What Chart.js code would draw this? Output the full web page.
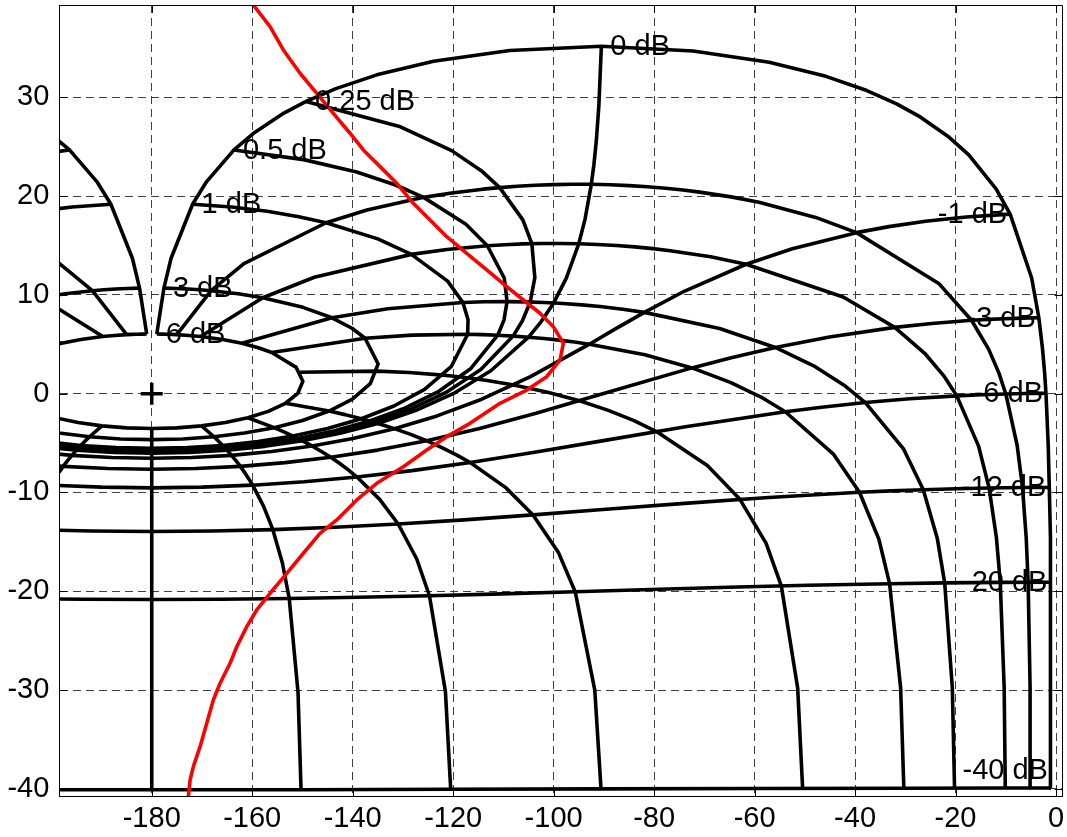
<!DOCTYPE html>
<html>
<head>
<meta charset="utf-8">
<title>Nichols chart</title>
<script src="https://cdn.jsdelivr.net/npm/chart.js@4.4.1/dist/chart.umd.min.js"></script>
<style>
  html, body { margin: 0; padding: 0; background: #ffffff; }
  #wrap { width: 1067px; height: 837px; }
</style>
</head>
<body>
<div id="wrap"><canvas id="nichols" width="1067" height="837"></canvas></div>
<script>
// ---------------------------------------------------------------------------
// Axis ranges and ticks (open-loop phase in degrees, open-loop gain in dB)
// ---------------------------------------------------------------------------
const phaseRange = [-198.4, 1.33];
const gainRange = [-40.72, 39.34];
const phaseTicks = [-180, -160, -140, -120, -100, -80, -60, -40, -20, 0];
const gainTicks = [-40, -30, -20, -10, 0, 10, 20, 30];

// Critical point marker
const criticalPoint = [-180, 0];

// Open-loop frequency response
const responsePhase = [
  -159.77, -156.45, -153.80, -150.48, -147.15, -143.85, -140.53, -137.88, -134.55, -131.23,
  -127.93, -124.60, -121.28, -117.30, -113.32, -109.34, -106.03, -102.71, -100.06, -98.07,
  -98.73, -101.38, -105.36, -108.68, -110.67, -116.64, -121.28, -125.26, -129.92, -135.21,
  -139.19, -143.17, -146.50, -149.82, -153.12, -156.45, -159.10, -161.09, -163.08, -164.41,
  -166.40, -167.74, -169.05, -170.38, -171.72, -172.37, -172.71
];
const responseGain = [
  39.34, 37.15, 34.79, 32.43, 30.40, 28.38, 26.36, 24.67, 22.98, 21.30,
  19.27, 17.58, 15.89, 14.21, 12.52, 10.83, 9.48, 8.14, 6.78, 5.10,
  3.41, 1.72, 0.37, -0.47, -0.97, -3.00, -4.35, -5.70, -7.39, -9.07,
  -10.76, -12.78, -14.13, -16.15, -18.18, -20.20, -21.89, -23.58, -25.61, -27.29,
  -29.31, -31.00, -33.36, -35.73, -37.75, -39.10, -40.79
];

// ---------------------------------------------------------------------------
// Closed-loop gain contours: [open-loop phase, open-loop gain dB]
// ---------------------------------------------------------------------------
const gain6dB = [
  [-179.00,6.04],[-178.00,6.03],[-176.99,6.02],[-176.00,6.00],[-175.01,5.98],[-172.59,5.89],[-170.25,5.78],
  [-165.89,5.48],[-162.05,5.10],[-158.79,4.65],[-156.11,4.17],[-151.24,2.66],[-149.92,1.25],[-150.91,0.04],
  [-153.39,-0.97],[-156.81,-1.79],[-160.86,-2.44],[-165.33,-2.92],[-170.09,-3.26],[-175.00,-3.46],[-180,-3.53],
  [-185.00,-3.46],[-189.91,-3.26],[-194.67,-2.92],[-199.14,-2.44],[-203.19,-1.79],[-206.61,-0.97],[-209.09,0.04],
  [-210.08,1.25],[-208.76,2.66],[-203.89,4.17],[-201.21,4.65],[-197.95,5.10],[-194.11,5.48],[-189.75,5.78],
  [-187.41,5.89],[-184.99,5.98],[-184.00,6.00],[-183.01,6.02],[-182.00,6.03],[-181.00,6.04]
];
const gain3dB = [
  [-177.58,10.68],[-175.17,10.65],[-172.79,10.59],[-170.46,10.52],[-168.18,10.42],[-162.78,10.11],[-157.90,9.71],
  [-149.91,8.74],[-144.12,7.68],[-140.14,6.62],[-137.54,5.61],[-134.93,3.01],[-136.50,1.01],[-140.06,-0.55],
  [-144.70,-1.76],[-149.98,-2.71],[-155.64,-3.44],[-161.55,-3.98],[-167.62,-4.36],[-173.79,-4.58],[-180,-4.65],
  [-186.21,-4.58],[-192.38,-4.36],[-198.45,-3.98],[-204.36,-3.44],[-210.02,-2.71],[-215.30,-1.76],[-219.94,-0.55],
  [-223.50,1.01],[-225.07,3.01],[-222.46,5.61],[-219.86,6.62],[-215.88,7.68],[-210.09,8.74],[-202.10,9.71],
  [-197.22,10.11],[-191.82,10.42],[-189.54,10.52],[-187.21,10.59],[-184.83,10.65],[-182.42,10.68]
];
const gain1dB = [
  [-171.87,19.17],[-164.11,18.89],[-157.02,18.46],[-150.73,17.91],[-145.29,17.30],[-135.01,15.67],[-128.32,14.10],
  [-121.10,11.39],[-118.06,9.23],[-117.04,7.48],[-117.11,6.01],[-120.40,2.73],[-125.69,0.44],[-131.79,-1.25],
  [-138.29,-2.54],[-145.02,-3.53],[-151.90,-4.29],[-158.86,-4.85],[-165.88,-5.24],[-172.93,-5.46],[-180,-5.54],
  [-187.07,-5.46],[-194.12,-5.24],[-201.14,-4.85],[-208.10,-4.29],[-214.98,-3.53],[-221.71,-2.54],[-228.21,-1.25],
  [-234.31,0.44],[-239.60,2.73],[-242.89,6.01],[-242.96,7.48],[-241.94,9.23],[-238.90,11.39],[-231.68,14.10],
  [-224.99,15.67],[-214.71,17.30],[-209.27,17.91],[-202.98,18.46],[-195.89,18.89],[-188.13,19.17]
];
const gain05dB = [
  [-163.63,24.67],[-149.76,23.69],[-139.20,22.43],[-131.48,21.12],[-125.88,19.87],[-117.45,17.15],[-113.20,14.97],
  [-109.83,11.71],[-109.27,9.32],[-109.89,7.45],[-111.13,5.92],[-116.47,2.55],[-122.85,0.24],[-129.64,-1.47],
  [-136.64,-2.77],[-143.76,-3.77],[-150.95,-4.53],[-158.18,-5.09],[-165.44,-5.47],[-172.72,-5.70],[-180,-5.77],
  [-187.28,-5.70],[-194.56,-5.47],[-201.82,-5.09],[-209.05,-4.53],[-216.24,-3.77],[-223.36,-2.77],[-230.36,-1.47],
  [-237.15,0.24],[-243.53,2.55],[-248.87,5.92],[-250.11,7.45],[-250.73,9.32],[-250.17,11.71],[-246.80,14.97],
  [-242.55,17.15],[-234.12,19.87],[-228.52,21.12],[-220.80,22.43],[-210.24,23.69],[-196.37,24.67]
];
const gain025dB = [
  [-149.27,29.58],[-130.50,27.01],[-120.29,24.60],[-114.40,22.57],[-110.74,20.86],[-106.13,17.59],[-104.34,15.18],
  [-103.74,11.74],[-104.67,9.28],[-106.21,7.38],[-108.07,5.83],[-114.49,2.44],[-121.43,0.12],[-128.57,-1.59],
  [-135.82,-2.89],[-143.13,-3.89],[-150.47,-4.65],[-157.84,-5.21],[-165.22,-5.60],[-172.61,-5.82],[-180,-5.90],
  [-187.39,-5.82],[-194.78,-5.60],[-202.16,-5.21],[-209.53,-4.65]
];
const gain0dB = [
  [-90.5,35.16],[-91,29.14],[-91.5,25.62],[-92,23.12],[-92.5,21.19],[-93.75,17.67],[-95,15.17],
  [-97.5,11.67],[-100,9.19],[-102.5,7.27],[-105,5.72],[-112.5,2.32],[-120,0],[-127.5,-1.71],
  [-135,-3.01],[-142.5,-4.01],[-150,-4.77],[-157.5,-5.33],[-165,-5.72],[-172.5,-5.95],[-180,-6.02],
  [-187.5,-5.95],[-195,-5.72],[-202.5,-5.33]
];
const gainM1dB = [
  [-9.13,18.17],[-17.89,17.89],[-25.98,17.46],[-33.27,16.91],[-39.71,16.30],[-52.49,14.67],[-61.69,13.10],
  [-73.91,10.39],[-81.94,8.23],[-87.96,6.48],[-92.89,5.01],[-104.60,1.73],[-114.31,-0.56],[-123.21,-2.25],
  [-131.71,-3.54],[-139.97,-4.53],[-148.10,-5.29],[-156.13,-5.85],[-164.12,-6.24],[-172.07,-6.46],[-180,-6.54],
  [-187.93,-6.46],[-195.88,-6.24],[-203.87,-5.85]
];
const gainM3dB = [
  [-3.42,7.68],[-6.83,7.65],[-10.21,7.59],[-13.54,7.52],[-16.82,7.43],[-24.72,7.11],[-32.10,6.71],
  [-45.09,5.74],[-55.88,4.68],[-64.86,3.62],[-72.46,2.61],[-90.07,0.01],[-103.50,-1.99],[-114.94,-3.55],
  [-125.30,-4.76],[-135.02,-5.71],[-144.36,-6.44],[-153.45,-6.98],[-162.38,-7.36],[-171.21,-7.58],[-180,-7.65],
  [-188.79,-7.58],[-197.62,-7.36],[-206.55,-6.98]
];
const gainM6dB = [
  [-2.00,0.04],[-4.01,0.03],[-6.01,0.02],[-8.00,0.00],[-9.99,-0.03],[-14.91,-0.11],[-19.75,-0.22],
  [-29.11,-0.52],[-37.95,-0.90],[-46.21,-1.35],[-53.89,-1.83],[-73.76,-3.34],[-90.08,-4.75],[-104.09,-5.96],
  [-116.61,-6.97],[-128.19,-7.79],[-139.14,-8.44],[-149.67,-8.92],[-159.91,-9.26],[-170.00,-9.46],[-180,-9.53],
  [-190.00,-9.46],[-200.09,-9.26]
];
const gainM12dB = [
  [-1.34,-9.49],[-6.67,-9.50],[-13.32,-9.55],[-19.91,-9.62],[-26.42,-9.72],[-32.83,-9.84],[-39.12,-9.98],
  [-57.19,-10.50],[-73.97,-11.10],[-89.55,-11.70],[-104.10,-12.27],[-117.83,-12.77],[-130.94,-13.19],
  [-143.58,-13.52],[-155.89,-13.76],[-168.00,-13.90],[-180,-13.95],[-192.00,-13.90],[-204.11,-13.76]
];
const gainM20dB = [
  [-1.11,-19.09],[-11.10,-19.10],[-22.16,-19.15],[-33.13,-19.23],[-49.35,-19.39],[-65.21,-19.59],[-80.66,-19.82],
  [-95.71,-20.04],[-110.38,-20.26],[-124.72,-20.45],[-138.78,-20.61],[-152.63,-20.73],[-166.35,-20.80],[-180,-20.83],
  [-193.65,-20.80],[-207.37,-20.73]
];
const gainM40dB = [
  [-1.01,-39.91],[-10.10,-39.91],[-30.29,-39.93],[-60.50,-39.96],[-90.57,-40.00],[-120.49,-40.04],
  [-150.28,-40.08],[-180,-40.09],[-209.72,-40.08]
];

// ---------------------------------------------------------------------------
// Closed-loop phase contours: [open-loop phase, open-loop gain dB]
// ---------------------------------------------------------------------------
const phaseM1 = [
  [-1.01,-39.91],[-1.03,-29.72],[-1.11,-19.09],[-1.19,-14.50],[-1.34,-9.49],[-1.55,-5.19],[-2.00,0.04],
  [-2.28,2.17],[-2.71,4.65],[-3.42,7.68],[-4.85,11.71],[-9.13,18.17],[-11.93,20.72],[-17.37,24.17],
  [-21.26,25.95],[-27.31,28.10],[-31.73,29.33],[-37.66,30.68],[-45.80,32.12],[-57.09,33.54],[-72.25,34.69],
  [-90.5,35.16],[-108.75,34.74],[-123.91,33.64],[-135.20,32.27],[-143.34,30.88],[-149.27,29.58],[-153.69,28.40],
  [-159.74,26.35],[-163.63,24.67],[-169.07,21.47],[-171.87,19.17],[-176.15,13.71],[-177.58,10.68],[-179.00,6.04]
];
const phaseM5 = [
  [-5.05,-39.91],[-5.16,-29.72],[-5.55,-19.09],[-5.94,-14.51],[-6.67,-9.50],[-7.74,-5.22],[-9.99,-0.03],
  [-11.36,2.08],[-13.42,4.51],[-16.82,7.43],[-23.35,11.16],[-39.71,16.30],[-47.84,17.84],[-59.12,19.37],
  [-64.70,19.92],[-70.92,20.40],[-74.26,20.61],[-77.73,20.79],[-81.31,20.94],[-84.99,21.06],[-88.73,21.14],
  [-92.5,21.19],[-96.27,21.19],[-100.01,21.16],[-103.69,21.09],[-107.27,20.99],[-110.74,20.86],[-114.08,20.70],
  [-120.30,20.32],[-125.88,19.87],[-137.16,18.59],[-145.29,17.30],[-161.65,13.16],[-168.18,10.42],[-175.01,5.98]
];
const phaseM10 = [
  [-10.10,-39.91],[-10.32,-29.73],[-11.10,-19.10],[-11.87,-14.53],[-13.32,-9.55],[-15.41,-5.31],[-19.75,-0.22],
  [-22.34,1.81],[-26.14,4.09],[-32.10,6.71],[-42.36,9.78],[-61.69,13.10],[-68.75,13.85],[-76.80,14.47],
  [-80.26,14.68],[-83.84,14.86],[-87.50,15.00],[-91.24,15.10],[-95,15.17],[-98.76,15.20],[-102.50,15.20],
  [-106.16,15.16],[-109.74,15.08],[-113.20,14.97],[-121.25,14.60],[-128.32,14.10],[-147.64,11.78],
  [-157.90,9.71],[-170.25,5.78]
];
const phaseM20 = [
  [-20.20,-39.92],[-20.64,-29.74],[-22.16,-19.15],[-23.64,-14.62],[-26.42,-9.72],[-30.32,-5.62],[-37.95,-0.90],
  [-42.19,0.86],[-47.93,2.73],[-55.88,4.68],[-66.97,6.60],[-81.94,8.23],[-86.25,8.55],[-90.73,8.82],
  [-94.41,8.99],[-98.13,9.13],[-101.87,9.23],[-105.59,9.29],[-109.27,9.32],[-113.75,9.30],[-118.06,9.23],
  [-133.03,8.60],[-144.12,7.68],[-162.05,5.10]
];
const phaseM30 = [
  [-30.29,-39.93],[-30.93,-29.76],[-33.13,-19.23],[-35.25,-14.75],[-39.12,-9.98],[-44.36,-6.09],[-53.89,-1.83],
  [-58.73,-0.34],[-64.82,1.15],[-72.46,2.61],[-81.84,3.93],[-92.89,5.01],[-95.85,5.23],[-98.87,5.42],
  [-101.93,5.58],[-105,5.72],[-108.07,5.83],[-111.13,5.92],[-114.15,5.98],[-117.11,6.01],[-128.16,5.93],
  [-137.54,5.61],[-156.11,4.17]
];
const phaseM50 = [
  [-50.44,-39.94],[-51.42,-29.82],[-54.68,-19.45],[-57.70,-15.15],[-62.92,-10.69],[-69.40,-7.26],[-79.53,-3.83],
  [-84.00,-2.73],[-89.11,-1.69],[-94.86,-0.72],[-101.19,0.15],[-107.97,0.88],[-109.71,1.04],[-111.47,1.19],
  [-113.23,1.33],[-115,1.46],[-116.77,1.58],[-118.53,1.69],[-120.29,1.79],[-122.03,1.88],[-128.81,2.15],
  [-135.14,2.28],[-150.47,2.17]
];
const phaseM90 = [
  [-90.57,-40.00],[-91.81,-30.00],[-95.71,-20.04],[-99.01,-16.11],[-104.10,-12.27],[-109.53,-9.51],[-116.61,-6.97],
  [-119.35,-6.19],[-122.25,-5.46],[-125.30,-4.76],[-128.46,-4.12],[-131.71,-3.54],[-133.68,-3.22],[-135,-3.01],
  [-136.32,-2.82],[-138.29,-2.54],[-141.54,-2.12],[-144.70,-1.76],[-153.39,-0.97]
];
const phaseM120 = [
  [-120.49,-40.04],[-121.54,-30.14],[-124.72,-20.45],[-127.25,-16.73],[-130.94,-13.19],[-134.63,-10.70],
  [-139.14,-8.44],[-140.81,-7.74],[-142.56,-7.07],[-144.36,-6.44],[-146.21,-5.85],[-148.10,-5.29],[-150,-4.77],
  [-151.90,-4.29],[-153.79,-3.85],[-155.64,-3.44],[-160.86,-2.44]
];
const phaseM150 = [
  [-150.28,-40.08],[-150.88,-30.24],[-152.63,-20.73],[-153.99,-17.14],[-155.89,-13.76],[-157.73,-11.41],
  [-159.91,-9.26],[-160.71,-8.60],[-161.53,-7.96],[-162.38,-7.36],[-163.24,-6.78],[-164.12,-6.24],[-165,-5.72],
  [-165.88,-5.24],[-166.76,-4.78],[-167.62,-4.36],[-170.09,-3.26]
];
const phaseM180 = [[-180,-40.09],[-180,-3.53]];
const phaseM210 = [
  [-199.29,-8.60],[-198.47,-7.96],[-197.62,-7.36],[-196.76,-6.78],[-195.88,-6.24],[-195,-5.72],
  [-194.12,-5.24],[-193.24,-4.78],[-192.38,-4.36],[-189.91,-3.26]
];
const phaseM340 = [[-215.88,7.68],[-197.95,5.10]];
const phaseM350 = [[-202.10,9.71],[-189.75,5.78]];
const phaseM355 = [[-214.71,17.30],[-198.35,13.16],[-191.82,10.42],[-184.99,5.98]];
const phaseM359 = [
  [-200.26,26.35],[-196.37,24.67],[-190.93,21.47],[-188.13,19.17],[-183.85,13.71],[-182.42,10.68],[-181.00,6.04]
];

// Gain contour labels, anchored at the first vertex of each contour
const gainLevels = [6, 3, 1, 0.5, 0.25, 0, -1, -3, -6, -12, -20, -40];
const gainLabelText = ['6 dB', '3 dB', '1 dB', '0.5 dB', '0.25 dB', '0 dB',
                       '-1 dB', '-3 dB', '-6 dB', '-12 dB', '-20 dB', '-40 dB'];
const gainContours = [gain6dB, gain3dB, gain1dB, gain05dB, gain025dB, gain0dB,
                      gainM1dB, gainM3dB, gainM6dB, gainM12dB, gainM20dB, gainM40dB];
const phaseContours = [phaseM1, phaseM5, phaseM10, phaseM20, phaseM30, phaseM50, phaseM90,
                       phaseM120, phaseM150, phaseM180, phaseM210, phaseM340, phaseM350,
                       phaseM355, phaseM359];

// ---------------------------------------------------------------------------
// Drawing
// ---------------------------------------------------------------------------
const FONT = '"Liberation Sans", Arial, Helvetica, sans-serif';
const toXY = line => line.map(([x, y]) => ({ x, y }));

const contourStyle = {
  showLine: true, pointRadius: 0, pointHoverRadius: 0, tension: 0, fill: false,
  borderColor: '#000000', borderWidth: 3.6, borderJoinStyle: 'round', clip: 0, order: 2
};

const datasets = [
  {
    data: responsePhase.map((p, i) => ({ x: p, y: responseGain[i] })),
    showLine: true, pointRadius: 0, pointHoverRadius: 0, tension: 0, fill: false,
    borderColor: '#ff0000', borderWidth: 3.6, borderJoinStyle: 'round', clip: 0, order: 0
  },
  {
    data: [{ x: criticalPoint[0], y: criticalPoint[1] }],
    showLine: false, pointStyle: 'cross', pointRadius: 11, pointHoverRadius: 11,
    borderColor: '#000000', pointBorderWidth: 3.5, borderWidth: 3.5, clip: 0, order: 1
  },
  ...gainContours.map(c => Object.assign({ data: toXY(c) }, contourStyle)),
  ...phaseContours.map(c => Object.assign({ data: toXY(c) }, contourStyle))
];

// Box outline and inward tick marks on all four sides
const framePlugin = {
  id: 'frame',
  afterDatasetsDraw(chart) {
    const { ctx, chartArea: a, scales: { x, y } } = chart;
    const tick = 8;
    ctx.save();
    ctx.strokeStyle = '#000000';
    ctx.lineWidth = 1;
    ctx.beginPath();
    phaseTicks.forEach(v => {
      const px = Math.round(x.getPixelForValue(v)) + 0.5;
      ctx.moveTo(px, a.bottom); ctx.lineTo(px, a.bottom - tick);
      ctx.moveTo(px, a.top); ctx.lineTo(px, a.top + tick);
    });
    gainTicks.forEach(v => {
      const py = Math.round(y.getPixelForValue(v)) + 0.5;
      ctx.moveTo(a.left, py); ctx.lineTo(a.left + tick, py);
      ctx.moveTo(a.right, py); ctx.lineTo(a.right - tick, py);
    });
    ctx.stroke();
    ctx.beginPath();
    ctx.rect(Math.round(a.left) + 0.5, Math.round(a.top) + 0.5,
             Math.round(a.right - a.left), Math.round(a.bottom - a.top));
    ctx.stroke();
    ctx.restore();
  }
};

// Contour labels: positive gains start at the anchor, negative gains end at it
const labelPlugin = {
  id: 'gainLabels',
  afterDatasetsDraw(chart) {
    const { ctx, chartArea: a, scales: { x, y } } = chart;
    ctx.save();
    ctx.font = '29px ' + FONT;
    ctx.fillStyle = '#000000';
    ctx.textBaseline = 'middle';
    gainLevels.forEach((level, i) => {
      const [ph, g] = gainContours[i][0];
      let px = x.getPixelForValue(ph);
      let py = y.getPixelForValue(g);
      py = Math.min(Math.max(py, a.top + 16), a.bottom - 26);
      if (level >= 0) { ctx.textAlign = 'left'; px += 9; }
      else { ctx.textAlign = 'right'; px -= 3; }
      ctx.fillText(gainLabelText[i], px, py + 1);
    });
    ctx.restore();
  }
};

// Keep the plot box fixed: no extra room reserved for overhanging tick labels
const noLabelPadding = s => {
  s.paddingTop = 0; s.paddingBottom = 0; s.paddingLeft = 0; s.paddingRight = 0;
};

new Chart(document.getElementById('nichols').getContext('2d'), {
  type: 'scatter',
  data: { datasets },
  options: {
    responsive: false,
    animation: false,
    devicePixelRatio: 1,
    events: [],
    layout: { autoPadding: false, padding: { top: 5, right: 4.3, left: 0, bottom: 0 } },
    plugins: { legend: { display: false }, tooltip: { enabled: false } },
    scales: {
      x: {
        type: 'linear',
        min: phaseRange[0], max: phaseRange[1],
        afterBuildTicks: s => { s.ticks = phaseTicks.map(v => ({ value: v })); },
        afterFit: s => { s.height = 41; noLabelPadding(s); },
        ticks: {
          color: '#000000', font: { family: FONT, size: 29 }, padding: 6,
          maxRotation: 0, autoSkip: false, callback: v => String(v)
        },
        grid: { color: '#404040', lineWidth: 1, drawTicks: false },
        border: { display: true, color: '#000000', width: 1, dash: [8, 5] }
      },
      y: {
        type: 'linear',
        min: gainRange[0], max: gainRange[1],
        afterBuildTicks: s => { s.ticks = gainTicks.map(v => ({ value: v })); },
        afterFit: s => { s.width = 59.3; noLabelPadding(s); },
        ticks: {
          color: '#000000', font: { family: FONT, size: 29 }, padding: 10,
          autoSkip: false, callback: v => String(v)
        },
        grid: { color: '#404040', lineWidth: 1, drawTicks: false },
        border: { display: true, color: '#000000', width: 1, dash: [8, 5] }
      }
    }
  },
  plugins: [framePlugin, labelPlugin]
});
</script>
</body>
</html>
